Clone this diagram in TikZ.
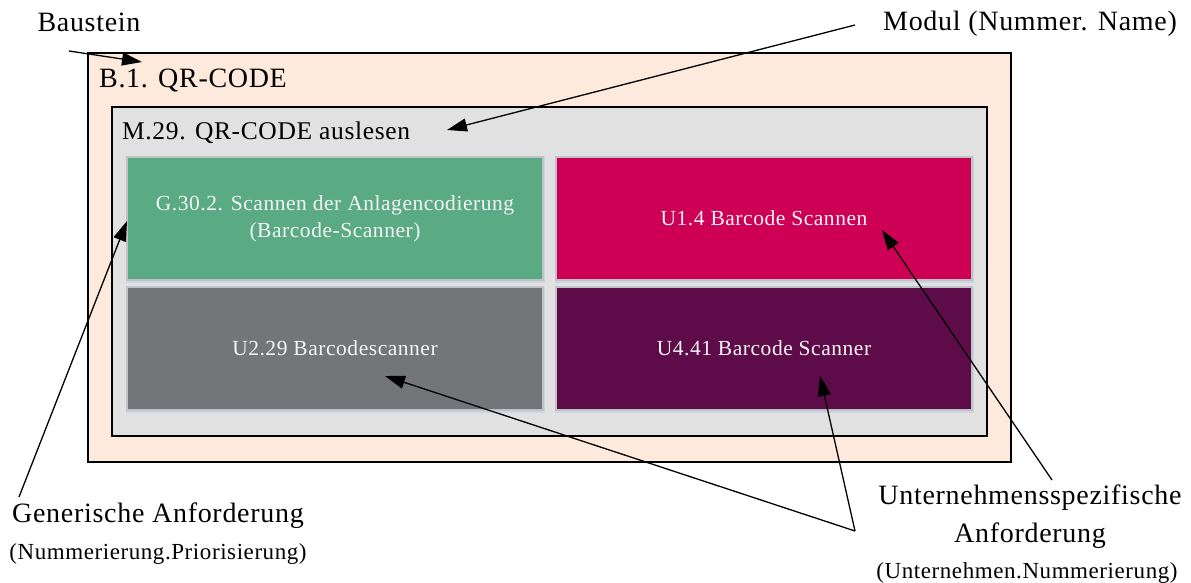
\documentclass[tikz,border=0pt]{standalone}
\usepackage{fontspec}
\setmainfont{Liberation Serif}[LetterSpace=2.5]
\usetikzlibrary{arrows.meta}
\definecolor{outerfill}{HTML}{FDEADC}
\definecolor{innerfill}{HTML}{E1E1E1}
\definecolor{tgreen}{HTML}{5AAA83}
\definecolor{tgray}{HTML}{737578}
\definecolor{tred}{HTML}{CE0056}
\definecolor{tpurple}{HTML}{5E0B4A}
\definecolor{tborder}{HTML}{BFC3C8}
\definecolor{tshadow}{HTML}{CCD5E0}
\definecolor{ttext}{HTML}{F4F4F4}
\tikzset{
  framebox/.style={draw=black, line width=1.8pt, inner sep=0pt},
  tile/.style={draw=tborder, line width=1.2pt, inner sep=0pt,
    minimum width=416, minimum height=123, text=ttext,
    font=\fontsize{21.5}{27}\selectfont, align=center,
    preaction={draw=tshadow, line width=3pt, fill=tshadow, transform canvas={yshift=-1.5pt}}},
  biglabel/.style={font=\fontsize{28}{38}\selectfont, align=center, inner sep=0pt},
  sublabel/.style={font=\fontsize{23}{28}\selectfont, inner sep=0pt},
  conn/.style={draw=black, line width=1.3pt, -{Triangle[length=20pt,width=13pt]}}
}
\begin{document}
\begin{tikzpicture}[x=1pt,y=-1pt]
\useasboundingbox (0,0) rectangle (1191,583);

% containers
\node[framebox, fill=outerfill, minimum width=923, minimum height=409] (bst) at (549.5,257.5) {};
\node[framebox, fill=innerfill, minimum width=875, minimum height=329] (mod) at (549.5,271.5) {};
\node[anchor=west, inner sep=0pt, font=\fontsize{28}{30}\selectfont] (btitle) at (99,81) {B.1. QR-CODE};
\node[anchor=west, inner sep=0pt, font=\fontsize{25.5}{28}\selectfont] (mtitle) at (122,133) {M.29. QR-CODE auslesen};

% tiles
\node[tile, fill=tgreen] (g30) at (335,218.5) {G.30.2. Scannen der Anlagencodierung\\(Barcode-Scanner)};
\node[tile, fill=tred] (u14) at (764,218.5) {U1.4 Barcode Scannen};
\node[tile, fill=tgray] (u229) at (335,348.5) {U2.29 Barcodescanner};
\node[tile, fill=tpurple] (u441) at (764,348.5) {U4.41 Barcode Scanner};

% labels
\node[biglabel] (lbst) at (89,22) {Baustein};
\node[biglabel] (lmod) at (1030,24) {Modul (Nummer. Name)};
\node[biglabel] (lgen) at (158,516) {Generische Anforderung};
\node[sublabel] (lgensub) at (158,554) {(Nummerierung.Priorisierung)};
\node[biglabel] (lunt) at (1030,517) {Unternehmensspezifische\\Anforderung};
\node[sublabel] (luntsub) at (1027,573) {(Unternehmen.Nummerierung)};

% connector ends
\coordinate (sbst) at (69,51);
\coordinate (tbst) at (142,62);
\coordinate (smod) at (855,25);
\coordinate (tmod) at (447,130);
\coordinate (sgen) at (19,497);
\coordinate (tgen) at (127,221);
\coordinate (su14) at (1052,480);
\coordinate (tu14) at (882,230);
\coordinate (sunt) at (855,531);
\coordinate (tu229) at (385,376);
\coordinate (tu441) at (820,376);

\draw[conn] (sbst) -- (tbst);
\draw[conn] (smod) -- (tmod);
\draw[conn] (sgen) -- (tgen);
\draw[conn] (su14) -- (tu14);
\draw[conn] (sunt) -- (tu229);
\draw[conn] (sunt) -- (tu441);
\end{tikzpicture}
\end{document}
